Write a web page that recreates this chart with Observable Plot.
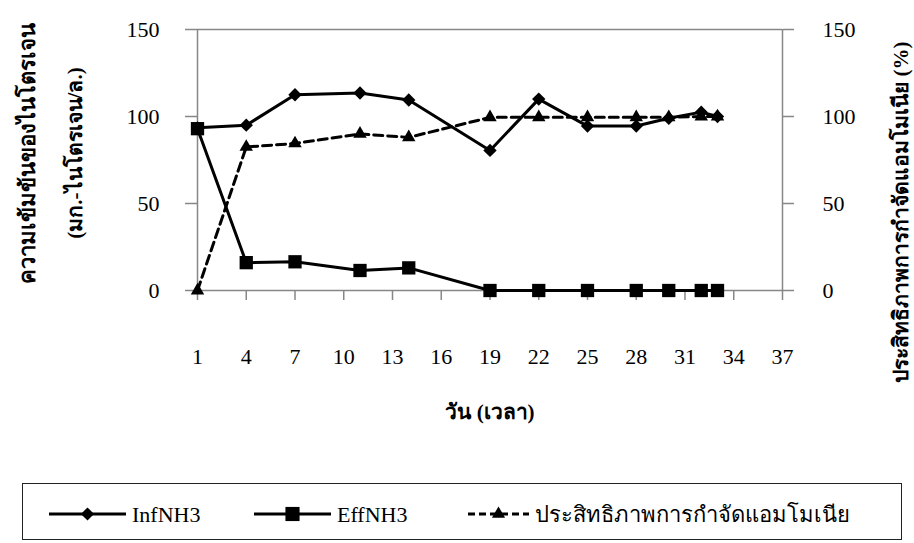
<!DOCTYPE html>
<html>
<head>
<meta charset="utf-8">
<script src="https://cdn.jsdelivr.net/npm/d3@7"></script>
<script src="https://cdn.jsdelivr.net/npm/@observablehq/plot@0.6"></script>
<style>
  body { margin: 0; background: #fff; }
  #wrap { position: relative; width: 914px; height: 543px; overflow: hidden;
          font-family: "Liberation Serif", serif; }
  #legend { position: absolute; left: 22px; top: 483px; width: 880px; height: 57px;
            border: 1.5px solid #222; box-sizing: border-box; }
  #legend svg { position: absolute; left: 0; top: 0; }
  #legend text { font-family: "Liberation Serif", serif; font-size: 22px; }
</style>
</head>
<body>
<div id="wrap"><div id="legend"></div></div>
<script>
// Sampling days and measured values
const days = [1, 4, 7, 11, 14, 19, 22, 25, 28, 30, 32, 33];
const infNH3 = [93.5, 95, 112.5, 113.5, 109.5, 80.5, 110, 94.5, 94.5, 99, 102.5, 100];
const effNH3 = [93, 16, 16.5, 11.5, 13, 0, 0, 0, 0, 0, 0, 0];
const removal = [0, 82.5, 84.5, 90, 88, 99.5, 99.5, 99.5, 99.5, 99.5, 100, 100];

const xTicks = [1, 4, 7, 10, 13, 16, 19, 22, 25, 28, 31, 34, 37];
const yTicks = [0, 50, 100, 150];
const seriesNames = ["InfNH3", "EffNH3", "ประสิทธิภาพการกำจัดแอมโมเนีย"];
const leftTitle = ["ความเข้มข้นของไนโตรเจน", "(มก.-ไนโตรเจน/ล.)"];
const rightTitle = "ประสิทธิภาพการกำจัดแอมโมเนีย (%)";
const xTitle = "วัน (เวลา)";

const inf = days.map((d, i) => ({day: d, v: infNH3[i]}));
const eff = days.map((d, i) => ({day: d, v: effNH3[i]}));
const rem = days.map((d, i) => ({day: d, v: removal[i]}));

const axisGray = "#878787";

const chart = Plot.plot({
  width: 914,
  height: 543,
  marginTop: 29,
  marginBottom: 253,
  marginLeft: 197,
  marginRight: 132,
  style: {fontFamily: '"Liberation Serif", serif', fontSize: "22px", color: "black", background: "transparent", overflow: "visible"},
  x: {type: "linear", domain: [1, 37]},
  y: {domain: [0, 150]},
  marks: [
    // frame lines
    Plot.ruleY([150], {stroke: axisGray, strokeWidth: 1.5}),
    Plot.ruleY([0], {stroke: axisGray, strokeWidth: 1.5}),
    Plot.ruleX([1], {stroke: axisGray, strokeWidth: 1.5}),
    Plot.ruleX([37], {stroke: axisGray, strokeWidth: 1.5}),
    // axes
    Plot.axisY(yTicks, {anchor: "left", tickSize: 12, tickPadding: 26, stroke: axisGray, strokeWidth: 1.5, fill: "black", label: null}),
    Plot.axisY(yTicks, {anchor: "right", tickSize: 11, tickPadding: 29, stroke: axisGray, strokeWidth: 1.5, fill: "black", label: null}),
    Plot.axisX(xTicks, {anchor: "bottom", tickSize: 10, tickPadding: 48, stroke: axisGray, strokeWidth: 1.5, fill: "black", label: null}),
    // removal efficiency (dashed, triangles)
    Plot.line(rem, {x: "day", y: "v", stroke: "black", strokeWidth: 3, strokeDasharray: "9,5"}),
    Plot.dot(rem, {x: "day", y: "v", symbol: "triangle", r: 5, fill: "black", stroke: "none"}),
    // effluent NH3 (squares)
    Plot.line(eff, {x: "day", y: "v", stroke: "black", strokeWidth: 3}),
    Plot.dot(eff, {x: "day", y: "v", symbol: "square", r: 7.5, fill: "black", stroke: "none"}),
    // influent NH3 (diamonds)
    Plot.line(inf, {x: "day", y: "v", stroke: "black", strokeWidth: 3}),
    Plot.dot(inf, {x: "day", y: "v", symbol: "diamond2", r: 6, fill: "black", stroke: "none"}),
    // axis titles
    Plot.text([leftTitle[0]], {frameAnchor: "left", textAnchor: "middle", dx: -170, dy: -7, rotate: -90, fontWeight: "bold", fontSize: 22, fill: "black"}),
    Plot.text([leftTitle[1]], {frameAnchor: "left", textAnchor: "middle", dx: -122, dy: -7, rotate: -90, fontWeight: "bold", fontSize: 21, fill: "black"}),
    Plot.text([rightTitle], {frameAnchor: "right", textAnchor: "middle", dx: 119, dy: 52, rotate: -90, fontWeight: "bold", fontSize: 21, fill: "black"}),
    Plot.text([xTitle], {frameAnchor: "bottom", textAnchor: "middle", dy: 128, fontWeight: "bold", fontSize: 21, fill: "black"})
  ]
});
document.getElementById("wrap").prepend(chart);

// Legend row
const legendSvg = d3.create("svg").attr("width", 880).attr("height", 57);
const entries = [
  {name: seriesNames[0], x0: 26, x1: 103, dash: null, sym: d3.symbolDiamond2, size: 110},
  {name: seriesNames[1], x0: 231, x1: 308, dash: null, sym: d3.symbolSquare, size: 200},
  {name: seriesNames[2], x0: 445, x1: 506, dash: "7,4", sym: d3.symbolTriangle, size: 75}
];
const ly = 30;
for (const e of entries) {
  legendSvg.append("line").attr("x1", e.x0).attr("x2", e.x1).attr("y1", ly).attr("y2", ly)
    .attr("stroke", "black").attr("stroke-width", 3).attr("stroke-dasharray", e.dash);
  legendSvg.append("path").attr("d", d3.symbol(e.sym, e.size)())
    .attr("transform", `translate(${(e.x0 + e.x1) / 2},${ly})`).attr("fill", "black");
  legendSvg.append("text").attr("x", e.x1 + 6).attr("y", ly).attr("dy", "0.35em").text(e.name);
}
document.getElementById("legend").append(legendSvg.node());
</script>
</body>
</html>
